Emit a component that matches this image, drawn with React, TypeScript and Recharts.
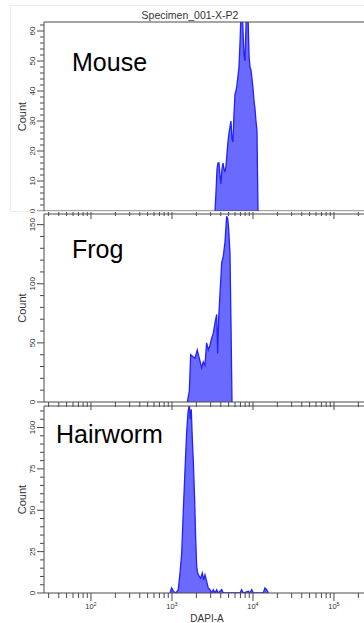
import React from 'react';
import { AreaChart, Area, XAxis, YAxis, ReferenceLine } from 'recharts';

const FONT = '"Liberation Sans", Arial, sans-serif';
const AXIS = '#4a4a4a';
const FILL = '#6a6aff';
const EDGE = '#2222ff';

// x values are log10(DAPI-A)
const X_DOMAIN: [number, number] = [1.42, 5.42];
const X_DECADES = [1, 2, 3, 4, 5];
const X_LABELED = [2, 3, 4, 5];
const X_MULT = [1, 2, 3, 4, 5, 6, 7, 8, 9];

const MOUSE_X = [
  3.531, 3.543, 3.556, 3.568, 3.58, 3.593, 3.605, 3.617, 3.63, 3.642, 3.654, 3.667,
  3.679, 3.691, 3.704, 3.716, 3.728, 3.741, 3.753, 3.765, 3.778, 3.79, 3.802, 3.815,
  3.827, 3.84, 3.852, 3.864, 3.877, 3.889, 3.901, 3.914, 3.926, 3.938, 3.951, 3.963,
  3.975, 3.988, 4.0, 4.012, 4.025, 4.037, 4.049, 4.062,
];
const MOUSE_COUNT = [
  0, 6, 14, 16, 16, 12, 9, 14, 16, 14, 13, 15,
  19, 23, 26, 28, 30, 24, 23, 32, 39, 40, 42, 45,
  48, 56, 66, 70, 60, 52, 50, 62, 70, 66, 52, 48,
  47, 44, 41, 37, 34, 30, 27, 0,
];

const FROG_X = [
  3.189, 3.214, 3.231, 3.263, 3.284, 3.312, 3.337, 3.367, 3.386, 3.407, 3.428, 3.448,
  3.469, 3.49, 3.51, 3.531, 3.552, 3.564, 3.577, 3.593, 3.614, 3.633, 3.654, 3.675,
  3.688, 3.7, 3.716, 3.728, 3.741,
];
const FROG_COUNT = [
  0, 9, 40, 38, 37, 44, 37, 29, 34, 31, 50, 44,
  48, 54, 58, 67, 74, 41, 72, 92, 118, 123, 135, 157,
  155, 146, 126, 69, 0,
];

const HAIRWORM_X = [
  2.975, 2.996, 3.016, 3.049, 3.078, 3.099, 3.12, 3.14, 3.152, 3.164, 3.181, 3.198,
  3.214, 3.226, 3.238, 3.251, 3.263, 3.28, 3.293, 3.305, 3.317, 3.337, 3.354, 3.374,
  3.391, 3.407, 3.428, 3.448, 3.469, 3.49, 3.51, 3.531, 3.552, 3.571, 3.614, 3.633,
  3.84, 3.86, 3.88, 3.942, 3.963, 3.984, 4.004, 4.127, 4.148, 4.169, 4.189,
];
const HAIRWORM_COUNT = [
  0, 3, 1, 0, 2, 12, 24, 50, 64, 78, 97, 109,
  114, 105, 111, 93, 80, 56, 32, 16, 12, 10, 9, 12,
  8, 11, 7, 3, 2, 0, 2, 0, 2, 0, 2, 0,
  0, 2, 0, 1, 0, 2, 0, 0, 3, 2, 0,
];

const MOUSE_Y_TICKS = [0, 10, 20, 30, 40, 50, 60];
const FROG_Y_TICKS = [0, 50, 100, 150];
const HAIRWORM_Y_TICKS = [0, 25, 50, 75, 100];

const xTicks: number[] = [];
X_DECADES.forEach((d) =>
  X_MULT.forEach((k) => {
    const v = Math.log10(k) + d;
    if (v >= X_DOMAIN[0] && v <= X_DOMAIN[1]) xTicks.push(v);
  })
);

function zip(xs: number[], ys: number[]) {
  return xs.map((x, i) => ({ x, count: ys[i] }));
}

interface PanelProps {
  xs: number[];
  counts: number[];
  yMax: number;
  majors: number[];
  minorStep: number;
  top: number;
  height: number;
  marginTop: number;
  xAxisHeight: number;
  showXLabels?: boolean;
}

function Panel({ xs, counts, yMax, majors, minorStep, top, height, marginTop, xAxisHeight, showXLabels }: PanelProps) {
  const data = zip(xs, counts);
  const baseline = height - xAxisHeight;
  const yTicks: number[] = [];
  for (let v = 0; v <= yMax; v += minorStep) yTicks.push(v);

  const renderYTick = (props: any) => {
    const { y, payload } = props;
    const major = majors.includes(payload.value);
    return (
      <g>
        <line x1={44 - (major ? 7 : 4)} x2={44} y1={y} y2={y} stroke={AXIS} strokeWidth={1} />
        {major && (
          <text
            x={35}
            y={y}
            transform={`rotate(-90 35 ${y})`}
            textAnchor="middle"
            fontSize={8}
            fontFamily={FONT}
            fill="#333"
          >
            {payload.value}
          </text>
        )}
      </g>
    );
  };

  const renderXTick = (props: any) => {
    const { x, payload } = props;
    const v = payload.value;
    const dec = Math.round(v);
    const major = Math.abs(v - dec) < 1e-6;
    return (
      <g>
        <line x1={x} x2={x} y1={baseline} y2={baseline + (major ? 8 : 5)} stroke={AXIS} strokeWidth={1} />
        {showXLabels && major && X_LABELED.includes(dec) && (
          <text x={x} y={baseline + 16} textAnchor="middle" fontSize={7.5} fontFamily={FONT} fill="#333">
            <tspan>10</tspan>
            <tspan dy={-3} fontSize={5.5}>
              {dec}
            </tspan>
          </text>
        )}
      </g>
    );
  };

  return (
    <div style={{ position: 'absolute', left: 0, top }}>
      <AreaChart width={368} height={height} data={data} margin={{ top: marginTop, right: 0, bottom: 0, left: 0 }}>
        <XAxis
          type="number"
          dataKey="x"
          domain={X_DOMAIN}
          allowDataOverflow
          ticks={xTicks}
          interval={0}
          height={xAxisHeight}
          tickLine={false}
          axisLine={{ stroke: AXIS }}
          tick={renderXTick}
        />
        <YAxis
          type="number"
          domain={[0, yMax]}
          allowDataOverflow
          ticks={yTicks}
          interval={0}
          width={44}
          tickLine={false}
          axisLine={{ stroke: AXIS }}
          tick={renderYTick}
          label={(p: any) => {
            const vb = p.viewBox || {};
            const cy = (vb.y ?? 0) + (vb.height ?? 0) / 2;
            return (
              <text
                x={26}
                y={cy}
                transform={`rotate(-90 26 ${cy})`}
                textAnchor="middle"
                fontSize={11}
                fontFamily={FONT}
                fill="#333"
              >
                Count
              </text>
            );
          }}
        />
        <ReferenceLine y={yMax} stroke={AXIS} strokeWidth={1} />
        <Area
          type="linear"
          dataKey="count"
          stroke={EDGE}
          strokeWidth={1.3}
          fill={FILL}
          fillOpacity={1}
          isAnimationActive={false}
        />
      </AreaChart>
    </div>
  );
}

export default function App() {
  return (
    <div
      style={{
        position: 'absolute',
        left: 0,
        top: 0,
        width: 364,
        height: 623,
        overflow: 'hidden',
        background: '#fff',
      }}
    >
      <Panel xs={MOUSE_X} counts={MOUSE_COUNT} yMax={63} majors={MOUSE_Y_TICKS} minorStep={2}
        top={0} height={220} marginTop={22} xAxisHeight={9} />
      <Panel xs={FROG_X} counts={FROG_COUNT} yMax={159} majors={FROG_Y_TICKS} minorStep={10}
        top={210} height={201} marginTop={4} xAxisHeight={9} />
      <Panel xs={HAIRWORM_X} counts={HAIRWORM_COUNT} yMax={113} majors={HAIRWORM_Y_TICKS} minorStep={5}
        top={400} height={223} marginTop={6} xAxisHeight={30} showXLabels />
      <svg width={364} height={623} style={{ position: 'absolute', left: 0, top: 0, pointerEvents: 'none' }}>
        <rect x={10.5} y={5.5} width={360} height={206} fill="none" stroke="#ececec" />
        <text x={190} y={19} textAnchor="middle" fontSize={10.5} fontFamily={FONT} fill="#333">
          Specimen_001-X-P2
        </text>
        <text x={72} y={71} fontSize={25} fontFamily={FONT} fill="#000">Mouse</text>
        <text x={72} y={258} fontSize={25} fontFamily={FONT} fill="#000">Frog</text>
        <text x={56} y={443} fontSize={25} fontFamily={FONT} fill="#000">Hairworm</text>
        <text x={207} y={622} textAnchor="middle" fontSize={10} fontFamily={FONT} fill="#333">
          DAPI-A
        </text>
      </svg>
    </div>
  );
}
